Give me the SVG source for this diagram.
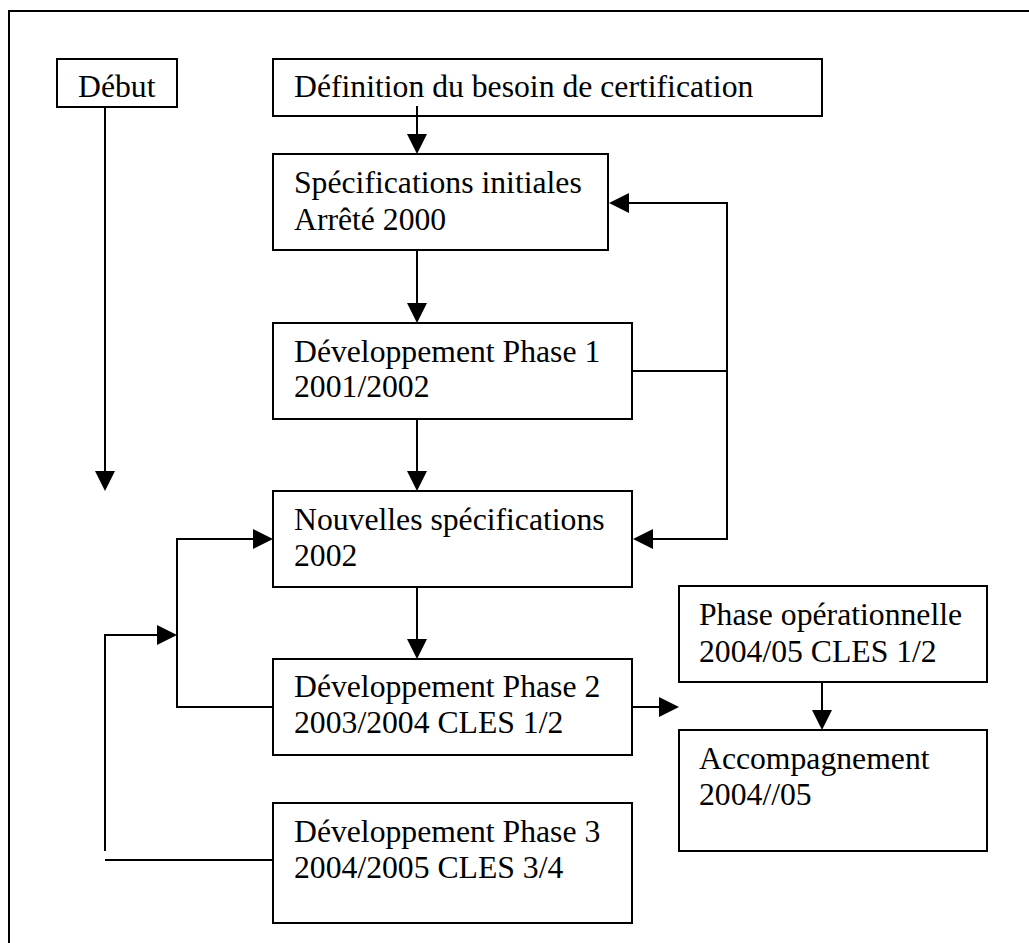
<svg xmlns="http://www.w3.org/2000/svg" width="1029" height="943" viewBox="0 0 1029 943">
<defs>
<style>
.box{fill:#fff;stroke:#000;stroke-width:2}
.ln{fill:none;stroke:#000;stroke-width:2}
.ah{fill:#000;stroke:none}
text{font-family:"Liberation Serif","Times New Roman",serif;font-size:31.7px;fill:#000}
</style>
</defs>
<rect width="1029" height="943" fill="#fff"/>
<path class="ln" d="M9,943 V11 H1029"/>
<g id="debut"><rect class="box" x="57" y="59" width="120" height="48"/><text x="78" y="97">Début</text></g>
<g id="definition"><rect class="box" x="273" y="59" width="549" height="57"/><text x="294" y="97">Définition du besoin de certification</text></g>
<g id="spec-init"><rect class="box" x="273" y="154" width="335" height="96"/><text x="294" y="193">Spécifications initiales</text><text x="294" y="230">Arrêté 2000</text></g>
<g id="dev1"><rect class="box" x="273" y="323" width="359" height="96"/><text x="294" y="362">Développement Phase 1</text><text x="294" y="397">2001/2002</text></g>
<g id="nouvelles"><rect class="box" x="273" y="491" width="359" height="96"/><text x="294" y="530">Nouvelles spécifications</text><text x="294" y="566">2002</text></g>
<g id="dev2"><rect class="box" x="273" y="659" width="359" height="96"/><text x="294" y="697">Développement Phase 2</text><text x="294" y="733">2003/2004 CLES 1/2</text></g>
<g id="dev3"><rect class="box" x="273" y="803" width="359" height="120"/><text x="294" y="842">Développement Phase 3</text><text x="294" y="878">2004/2005 CLES 3/4</text></g>
<g id="phase-op"><rect class="box" x="679" y="586" width="308" height="96"/><text x="699" y="625">Phase opérationnelle</text><text x="699" y="662">2004/05 CLES 1/2</text></g>
<g id="accomp"><rect class="box" x="679" y="730" width="308" height="121"/><text x="699" y="769">Accompagnement</text><text x="699" y="805">2004//05</text></g>
<g id="connectors">
<path class="ln" d="M105,107 V472"/><path class="ah" d="M95,471 L115,471 L105,491 Z"/>
<path class="ln" d="M417,106 V136"/><path class="ah" d="M407,134 L427,134 L417,154 Z"/>
<path class="ln" d="M417,250 V305"/><path class="ah" d="M407,303 L427,303 L417,323 Z"/>
<path class="ln" d="M417,419 V473"/><path class="ah" d="M407,471 L427,471 L417,491 Z"/>
<path class="ln" d="M417,587 V641"/><path class="ah" d="M407,639 L427,639 L417,659 Z"/>
<path class="ln" d="M632,371 H727"/>
<path class="ln" d="M627,203 H727 V539 H651"/>
<path class="ah" d="M629,193 L629,213 L609,203 Z"/>
<path class="ah" d="M653,529 L653,549 L633,539 Z"/>
<path class="ln" d="M273,707 H177 V539 H255"/><path class="ah" d="M253,529 L253,549 L273,539 Z"/>
<path class="ln" d="M105,851 V635 H159"/><path class="ah" d="M157,625 L157,645 L177,635 Z"/>
<path class="ln" d="M105,860 H273"/>
<path class="ln" d="M632,707 H661"/><path class="ah" d="M659,697 L659,717 L679,707 Z"/>
<path class="ln" d="M822,682 V712"/><path class="ah" d="M812,710 L832,710 L822,730 Z"/>
</g>
</svg>
